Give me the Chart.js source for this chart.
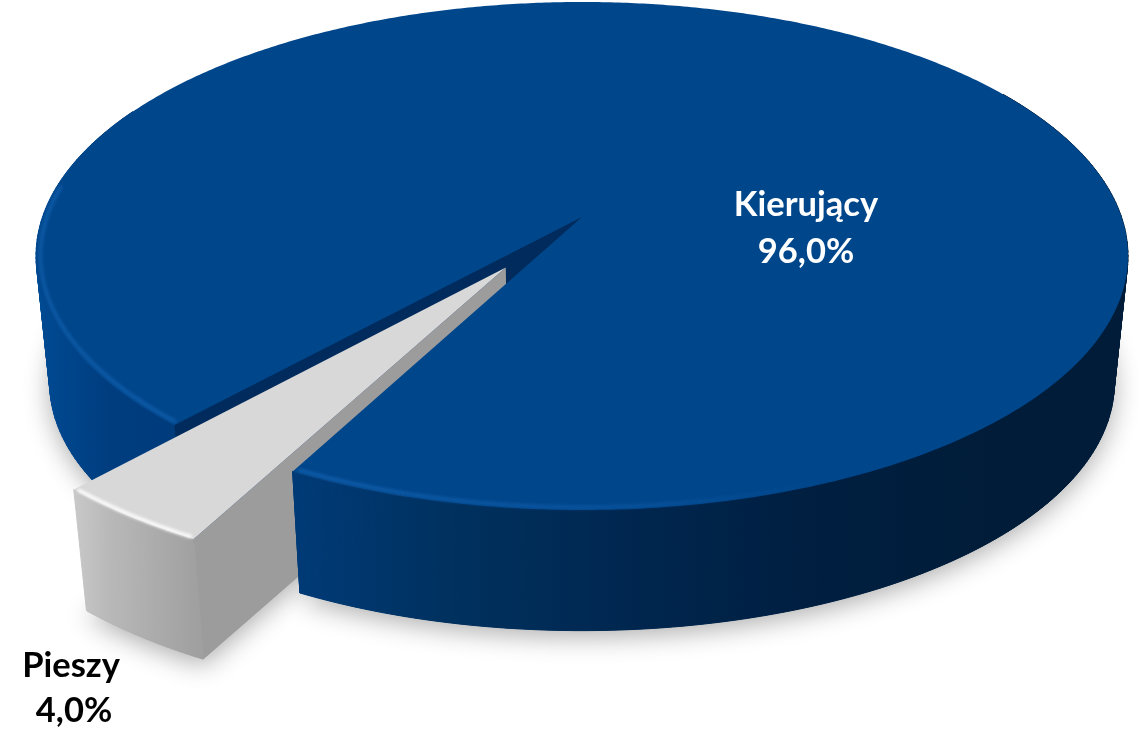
<!DOCTYPE html>
<html lang="pl">
<head>
<meta charset="utf-8">
<title>Kierujący / Pieszy</title>
<script src="https://cdn.jsdelivr.net/npm/chart.js@4/dist/chart.umd.js"></script>
<style>
  html, body { margin: 0; padding: 0; background: #fff; }
  canvas { display: block; }
</style>
</head>
<body>
<canvas id="chart" width="1139" height="730"></canvas>
<script>
const labels = ['Kierujący', 'Pieszy'];
const values = [96.0, 4.0];

// projection of the flat pie onto the tilted disc
const K = 0.1535;
const TOP = { cx: 582, cy: 217, ax: 539.5, by: 248 };
const BOTTOM = { cx: 582, cy: 345, ax: 526, by: 241.8 };
const RAD = Math.PI / 180;

function project(u, v, face) {
  const w = 1 - K * v;
  return [face.cx + face.ax * u / w, face.cy + face.by * v / w];
}

// point on a slice: unit circle pushed out by the arc's own offset
function rimPoint(s, a, face, radius = 1) {
  return project(s.ox + Math.cos(a) * radius, s.oy + Math.sin(a) * radius, face);
}

function sliceOf(arc) {
  const mid = (arc.startAngle + arc.endAngle) / 2;
  const off = (arc.options.offset || 0) / arc.outerRadius;
  return { start: arc.startAngle, end: arc.endAngle, ox: Math.cos(mid) * off, oy: Math.sin(mid) * off };
}

function hGradient(ctx, stops) {
  const x0 = stops[0][0], x1 = stops[stops.length - 1][0];
  const g = ctx.createLinearGradient(x0, 0, x1, 0);
  stops.forEach(s => g.addColorStop((s[0] - x0) / (x1 - x0), s[1]));
  return g;
}

function facePath(ctx, s, face) {
  ctx.beginPath();
  ctx.moveTo(...project(s.ox, s.oy, face));
  for (let a = s.start; a < s.end; a += RAD / 2) ctx.lineTo(...rimPoint(s, a, face));
  ctx.lineTo(...rimPoint(s, s.end, face));
  ctx.closePath();
}

function drawSide(ctx, s, a0, a1, fill) {
  ctx.fillStyle = fill;
  ctx.strokeStyle = fill;
  ctx.lineWidth = 1;
  const step = RAD;
  for (let a = a0; a < a1; a += step) {
    const b = Math.min(a + step, a1);
    ctx.beginPath();
    ctx.moveTo(...rimPoint(s, a, TOP));
    ctx.lineTo(...rimPoint(s, b, TOP));
    ctx.lineTo(...rimPoint(s, b, BOTTOM));
    ctx.lineTo(...rimPoint(s, a, BOTTOM));
    ctx.closePath();
    ctx.fill();
    ctx.stroke();
  }
}

function drawWall(ctx, s, a, fill) {
  ctx.fillStyle = fill;
  ctx.beginPath();
  ctx.moveTo(...project(s.ox, s.oy, TOP));
  ctx.lineTo(...rimPoint(s, a, TOP));
  ctx.lineTo(...rimPoint(s, a, BOTTOM));
  ctx.lineTo(...project(s.ox, s.oy, BOTTOM));
  ctx.closePath();
  ctx.fill();
}

function strokeRim(ctx, s, a0, a1, style, width, blur, radius) {
  ctx.save();
  ctx.filter = 'blur(' + blur + 'px)';
  ctx.strokeStyle = style;
  ctx.lineWidth = width;
  ctx.lineCap = 'round';
  ctx.beginPath();
  ctx.moveTo(...rimPoint(s, a0, TOP, radius));
  for (let a = a0; a < a1; a += RAD / 2) ctx.lineTo(...rimPoint(s, a, TOP, radius));
  ctx.lineTo(...rimPoint(s, a1, TOP, radius));
  ctx.stroke();
  ctx.restore();
}

const pie3d = {
  id: 'pie3d',
  beforeDatasetDraw(chart) {
    const ctx = chart.ctx;
    const arcs = chart.getDatasetMeta(0).data;
    const blue = sliceOf(arcs[0]);
    const gray = sliceOf(arcs[1]);

    // soft shadow on the page
    ctx.save();
    ctx.shadowColor = 'rgba(0,0,0,0.32)';
    ctx.shadowBlur = 26;
    ctx.shadowOffsetY = 6;
    ctx.fillStyle = '#00305f';
    facePath(ctx, blue, BOTTOM);
    ctx.fill();
    ctx.fillStyle = '#a0a0a0';
    facePath(ctx, gray, BOTTOM);
    ctx.fill();
    ctx.restore();

    const blueSide = hGradient(ctx, [
      [35, '#004b94'], [110, '#003d7f'], [300, '#003a76'], [450, '#00315f'],
      [620, '#002750'], [800, '#001f41'], [1000, '#001c38'], [1130, '#001c38']
    ]);

    // left part of the blue side and the inner cut, behind the gray slice
    drawSide(ctx, blue, blue.start, blue.start + 75 * RAD, blueSide);
    drawWall(ctx, blue, blue.start, '#002b5c');

    // gray slice
    drawWall(ctx, gray, gray.start, '#9c9c9c');
    drawSide(ctx, gray, gray.start, gray.end, hGradient(ctx, [
      [75, '#c8c8c8'], [110, '#b8b8b8'], [197, '#a0a0a0']
    ]));
    ctx.fillStyle = '#d8d8d8';
    facePath(ctx, gray, TOP);
    ctx.fill();
    strokeRim(ctx, gray, gray.start + 0.5 * RAD, gray.end - 0.5 * RAD, 'rgba(255,255,255,0.95)', 3.5, 1.5, 0.996);

    // front part of the blue side, in front of the gray wall
    drawSide(ctx, blue, blue.end - 150 * RAD, blue.end, blueSide);

    // blue top face
    ctx.fillStyle = '#00468b';
    facePath(ctx, blue, TOP);
    ctx.fill();

    const rimGlow = hGradient(ctx, [
      [30, 'rgba(20,100,180,0.6)'], [300, 'rgba(20,100,180,0.7)'],
      [620, 'rgba(20,100,180,0.4)'], [830, 'rgba(20,100,180,0)']
    ]);
    strokeRim(ctx, blue, blue.end - 60 * RAD, blue.end - 0.5 * RAD, rimGlow, 4, 1.8, 0.992);
    strokeRim(ctx, blue, blue.start + 0.5 * RAD, blue.start + 55 * RAD, rimGlow, 4, 1.8, 0.992);

    return false;
  },
  afterDatasetsDraw(chart) {
    const ctx = chart.ctx;
    const places = [[806, '#fff', 205, 252], [71, '#000', 666, 711]];
    ctx.save();
    ctx.font = 'bold 34.5px Lato';
    ctx.textAlign = 'center';
    ctx.textBaseline = 'middle';
    labels.forEach((name, i) => {
      const [x, color, y1, y2] = places[i];
      ctx.fillStyle = color;
      ctx.fillText(name, x, y1);
      ctx.fillText(values[i].toFixed(1).replace('.', ',') + '%', x + (i ? 3 : 0), y2);
    });
    ctx.restore();
  }
};

new Chart(document.getElementById('chart'), {
  type: 'pie',
  data: {
    labels: labels,
    datasets: [{
      data: values,
      offset: [0, 78],
      backgroundColor: ['#00468b', '#d8d8d8'],
    }],
  },
  options: {
    responsive: false,
    animation: false,
    rotation: 222,
    events: [],
    plugins: {
      legend: { display: false },
      tooltip: { enabled: false },
    },
  },
  plugins: [pie3d],
});
</script>
</body>
</html>
